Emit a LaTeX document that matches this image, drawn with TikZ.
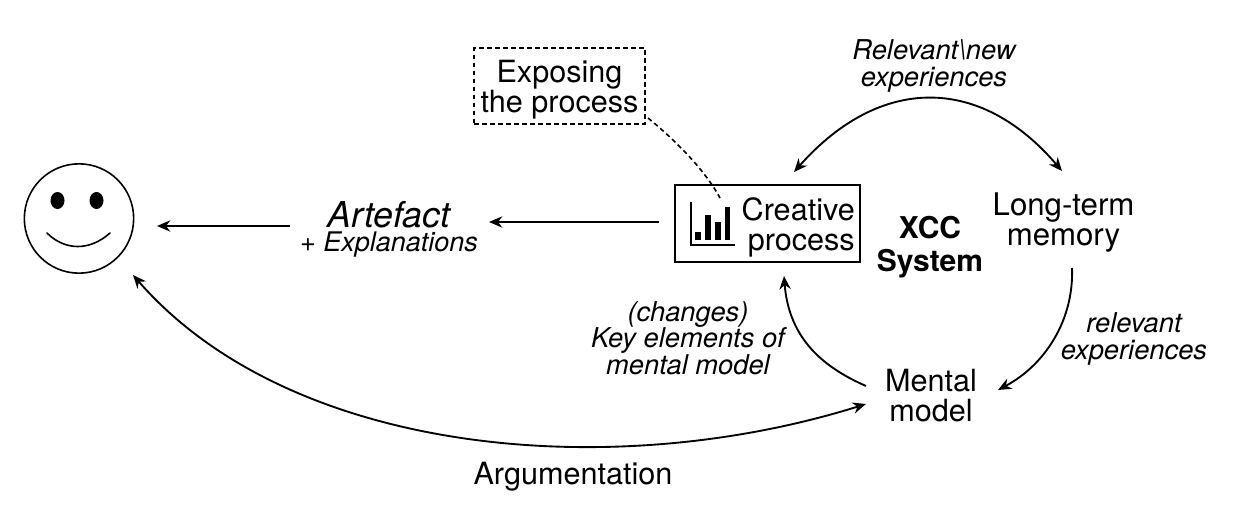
\documentclass[tikz,border=0pt]{standalone}
\usepackage{fontspec}
\setmainfont{TeX Gyre Heros}
\usetikzlibrary{arrows.meta}
\newcommand{\fpx}[2]{\fontsize{\dimexpr#1pt*3/4\relax}{\dimexpr#2pt*3/4\relax}\selectfont}
\tikzset{
  x=0.75pt,y=-0.75pt,
  lbl/.style={inner sep=0pt,align=center,font=\fpx{30.6}{30}},
  ital/.style={inner sep=0pt,align=center,font=\fpx{27.3}{26.5}\itshape},
  conn/.style={line width=1.4pt,-{Stealth[length=10pt,width=8.5pt]}},
  bothconn/.style={line width=1.4pt,{Stealth[length=10pt,width=8.5pt]}-{Stealth[length=10pt,width=8.5pt]}},
  dashline/.style={line width=1.2pt,dash pattern=on 3.5pt off 2.5pt},
}
\begin{document}
\begin{tikzpicture}
\useasboundingbox (0,0) rectangle (1240,518);
% smiley
\node[draw,circle,line width=1.2pt,minimum size=82pt,inner sep=0pt] (face) at (79,218.5) {};
\fill (57.5,200.5) ellipse (7 and 8.5);
\fill (96.5,200.5) ellipse (7 and 8.5);
\draw[line width=1.2pt,line cap=round] (47,233) .. controls (65,251) and (90,251) .. (110,233);
% nodes
\node[lbl,font=\fpx{35.7}{36}\itshape] (art) at (389,215) {Artefact};
\node[lbl,font=\fpx{27}{27}] (expl) at (389,244.5) {+ \itshape Explanations};
\node[draw,line width=1.3pt,minimum width=138.5pt,minimum height=57.5pt,inner sep=0pt] (cp) at (767.5,223.5) {};
\node[lbl,align=right,anchor=east] (cptext) at (855,227) {Creative\\process};
\node[draw,dashline,minimum width=128pt,minimum height=57pt,inner sep=0pt] (ex) at (559.5,86) {};
\node[lbl] (extext) at (559.5,90) {Exposing\\the process};
\node[lbl,font=\fpx{30}{33}\bfseries] (xcc) at (930,247) {XCC\\System};
\node[lbl,font=\fpx{31.2}{30}] (ltm) at (1063.5,223) {Long-term\\memory};
\node[lbl] (mm) at (931,396) {Mental\\model};
\node[lbl] (arg) at (573,477) {Argumentation};
\node[ital] (rn) at (934,66) {Relevant\textbackslash new\\experiences};
\node[ital] (re) at (1134,339) {relevant\\experiences};
\node[ital] (ke) at (688,338) {(changes)\\Key elements of\\mental model};
% chart icon
\draw[line width=1.1pt] (691,202) -- (691,245) -- (735,245);
\fill (695,232) rectangle (701,240);
\fill (705,215) rectangle (711,240);
\fill (715,222) rectangle (721,240);
\fill (725,207) rectangle (730,240);
% anchors
\coordinate (a1) at (659,222); \coordinate (a2) at (489,222);
\coordinate (b1) at (290,226); \coordinate (b2) at (157,226);
\coordinate (c1) at (794,172); \coordinate (c2) at (1062,171);
\coordinate (d1) at (866,404); \coordinate (d2) at (133,275);
\coordinate (e1) at (1072,268); \coordinate (e2) at (998,390);
\coordinate (f1) at (866,386); \coordinate (f2) at (784,276);
\coordinate (g1) at (648,118); \coordinate (g2) at (720,198);
\draw[conn] (a1) -- (a2);
\draw[conn] (b1) -- (b2);
\draw[bothconn] (c1) .. controls (880,75) and (980,75) .. (c2);
\draw[bothconn] (d1) .. controls (610,484) and (290,455) .. (d2);
\draw[conn] (e1) .. controls (1074,320) and (1045,365) .. (e2);
\draw[conn] (f1) .. controls (825,368) and (789,340) .. (f2);
\draw[dashline] (g1) .. controls (675,140) and (705,170) .. (g2);
\end{tikzpicture}
\end{document}
